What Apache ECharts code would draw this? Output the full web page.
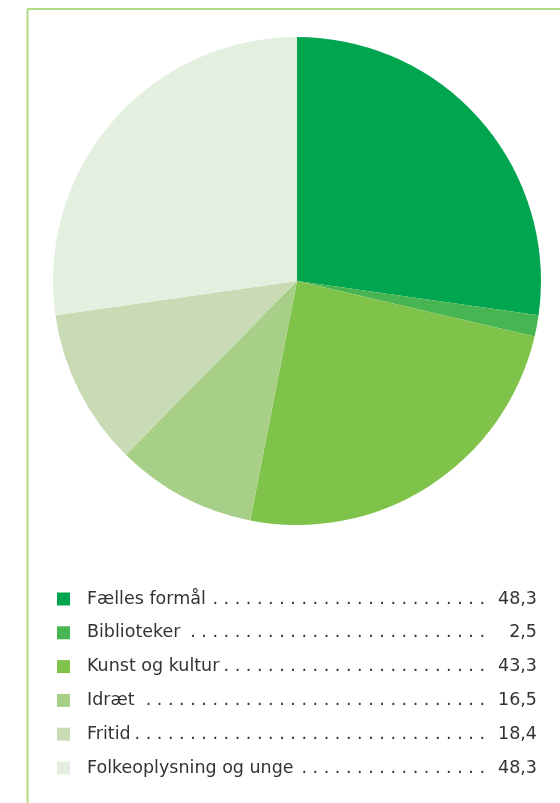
<!DOCTYPE html>
<html>
<head>
<meta charset="utf-8">
<script src="https://cdn.jsdelivr.net/npm/echarts@6/dist/echarts.min.js"></script>
<style>
  html, body { margin: 0; padding: 0; background: #fff; }
  #chart { width: 560px; height: 803px; }
</style>
</head>
<body>
<div id="chart"></div>
<script>
// data
var categories = ["Fælles formål", "Biblioteker", "Kunst og kultur", "Idræt", "Fritid", "Folkeoplysning og unge"];
var values = [48.3, 2.5, 43.3, 16.5, 18.4, 48.3];
var valueLabels = ["48,3", "2,5", "43,3", "16,5", "18,4", "48,3"];
var colors = ["#00a54f", "#46b552", "#80c34b", "#a7cf87", "#c8dbb4", "#e3f0df"];

var FONT = "DejaVu Sans";
var FS = 17.5;

// leader dots: fill from end of name to a fixed column
var ctx = document.createElement("canvas").getContext("2d");
ctx.font = FS + "px '" + FONT + "'";
var textSpan = 398; // text start -> end of dots
function nameWidth(name) {
    return ctx.measureText(name).width;
}
function leader(name) {
    var unit = ctx.measureText(" .").width;
    var space = ctx.measureText(" ").width;
    var n = Math.floor((textSpan - nameWidth(name) - 1 + space) / unit);
    var s = "";
    for (var k = 0; k < n; k++) {
        s += (k ? " ." : ".");
    }
    return s;
}

var rich = {
    n: { fontFamily: FONT, fontSize: FS, color: "#333", lineHeight: 20, padding: [0, 0, 0, 12] },
    v: { fontFamily: FONT, fontSize: FS, color: "#333", lineHeight: 20, width: 52, align: "right" }
};
categories.forEach(function (c, i) {
    // each dots segment gets the exact remaining width so the column lines up
    rich["d" + i] = {
        fontFamily: FONT, fontSize: FS, color: "#333", lineHeight: 20,
        width: textSpan - nameWidth(c), align: "right"
    };
});

var chart = echarts.init(document.getElementById("chart"));
chart.setOption({
    animation: false,
    color: colors,
    graphic: [
        {
            type: "line",
            shape: { x1: 27.5, y1: 9, x2: 27.5, y2: 803 },
            style: { stroke: "#b3da86", lineWidth: 2 }
        },
        {
            type: "line",
            shape: { x1: 27, y1: 9, x2: 560, y2: 9 },
            style: { stroke: "#b3da86", lineWidth: 2 }
        }
    ],
    legend: {
        orient: "vertical",
        left: 57,
        top: 590,
        padding: 0,
        icon: "rect",
        itemWidth: 13,
        itemHeight: 13,
        itemGap: 15.8,
        selectedMode: false,
        data: categories,
        formatter: function (name) {
            var i = categories.indexOf(name);
            return "{n|" + name + "}{d" + i + "|" + leader(name) + "}{v|" + valueLabels[i] + "}";
        },
        textStyle: { rich: rich }
    },
    series: [
        {
            type: "pie",
            center: [297, 281],
            radius: 244,
            startAngle: 90,
            clockwise: true,
            silent: true,
            label: { show: false },
            labelLine: { show: false },
            itemStyle: { borderWidth: 0 },
            data: categories.map(function (c, i) {
                return { name: c, value: values[i] };
            })
        }
    ]
});
</script>
</body>
</html>
